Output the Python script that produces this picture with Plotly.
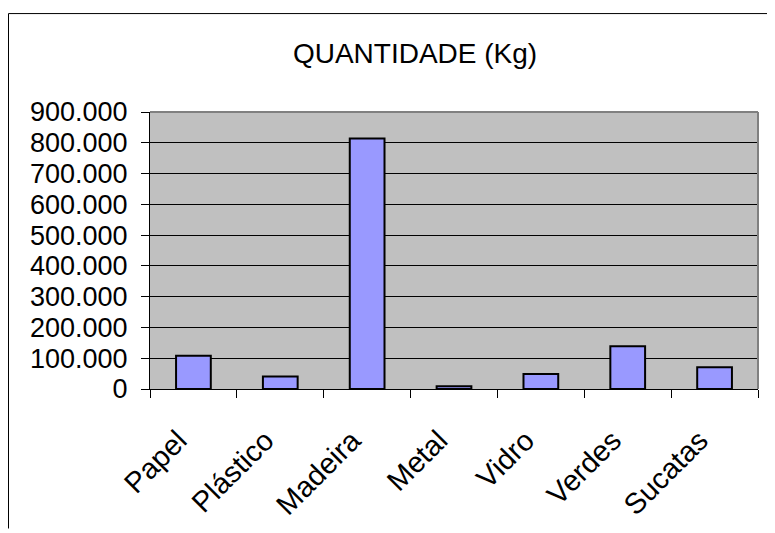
import plotly.graph_objects as go

categories = ["Papel", "Plástico", "Madeira", "Metal", "Vidro", "Verdes", "Sucatas"]
quantidade = [108000, 41000, 814000, 9000, 49000, 139000, 71000]
y_ticks = [0, 100000, 200000, 300000, 400000, 500000, 600000, 700000, 800000, 900000]

# page has an 8px body margin: figure coordinates = page coordinates - 8
OFF = 8
W, H = 775 - OFF, 533 - OFF
ml, mt = 150 - OFF, 112 - OFF
plot_right, plot_bottom = 758 - OFF, 392 - OFF
mr, mb = W - plot_right, H - plot_bottom
pw, ph = W - ml - mr, H - mt - mb

def px_x(x):
    return (x - OFF - ml) / pw

def px_y(y):
    return (H - mb - (y - OFF)) / ph

fig = go.Figure()
fig.add_trace(go.Bar(
    x=categories, y=quantidade,
    marker=dict(color="#9999FF", line=dict(color="#000000", width=2)),
    hoverinfo="skip",
))

fig.update_layout(
    width=W, height=H,
    margin=dict(l=ml, r=mr, t=mt, b=mb),
    paper_bgcolor="white",
    plot_bgcolor="#C0C0C0",
    separators=",.",
    bargap=0.6,
    showlegend=False,
    font=dict(family="Liberation Sans, Arial, sans-serif", color="black", size=27),
    title=dict(text="QUANTIDADE (Kg)", x=(415 - OFF) / W, xref="container", xanchor="center",
               y=1 - (53 - OFF) / H, yref="container", yanchor="middle",
               font=dict(size=28, color="black")),
    xaxis=dict(
        type="category", tickangle=-45, tickson="boundaries",
        ticks="outside", ticklen=8, tickcolor="#000000", tickwidth=1,
        showline=True, linecolor="#000000", linewidth=1,
        showgrid=False, ticklabelstandoff=22, ticklabelshift=-15,
        tickfont=dict(size=29),
    ),
    yaxis=dict(
        range=[0, 900000], tickvals=y_ticks, tickformat=",d",
        ticks="outside", ticklen=8, tickcolor="#000000", tickwidth=1,
        showline=True, linecolor="#000000", linewidth=1,
        showgrid=True, gridcolor="#000000", gridwidth=1,
        zeroline=False, ticklabelstandoff=8, tickfont=dict(size=27),
    ),
)

# plot area border (top and right, gray)
fig.add_shape(type="line", xref="paper", yref="paper", x0=0, x1=1, y0=1, y1=1,
              line=dict(color="#808080", width=2), layer="above")
fig.add_shape(type="line", xref="paper", yref="paper", x0=1, x1=1, y0=0, y1=1,
              line=dict(color="#808080", width=2), layer="above")

# chart outer border: left and top edges, kept inside the figure
bx0, by_top = px_x(OFF + 0.5), px_y(12.5)
fig.add_shape(type="line", xref="paper", yref="paper",
              x0=bx0, x1=px_x(775), y0=by_top, y1=by_top,
              line=dict(color="#000000", width=1), layer="above")
fig.add_shape(type="line", xref="paper", yref="paper",
              x0=bx0, x1=bx0, y0=px_y(533), y1=by_top,
              line=dict(color="#000000", width=1), layer="above")

fig.write_html("out.html")
